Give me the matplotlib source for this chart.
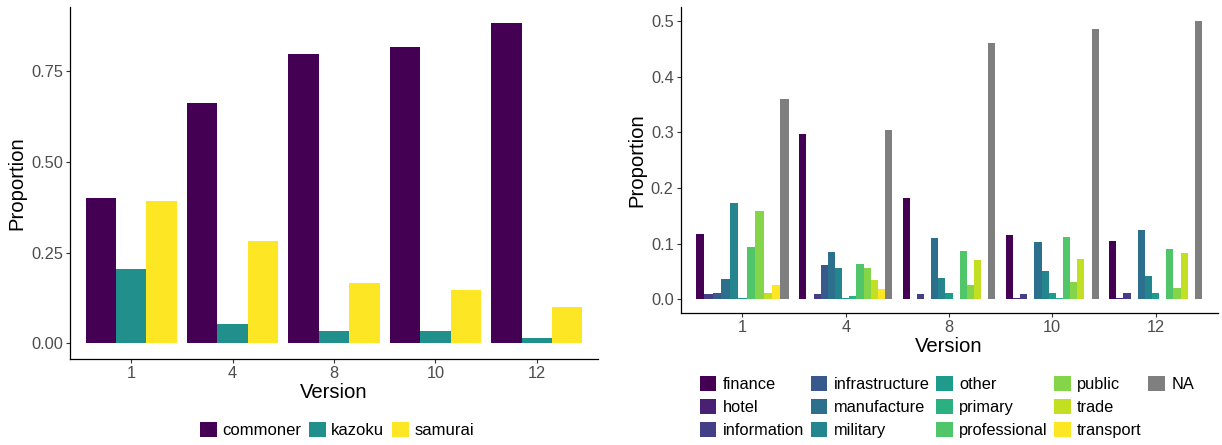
import numpy as np
import matplotlib
matplotlib.use("Agg")
import matplotlib.pyplot as plt
from matplotlib.patches import Patch

plt.rcParams['font.family'] = ['Liberation Sans', 'DejaVu Sans']

# ---------------- data ----------------
versions = ['1', '4', '8', '10', '12']

# left panel: class
class_names = ['commoner', 'kazoku', 'samurai']
commoner = [0.400, 0.662, 0.797, 0.816, 0.884]
kazoku = [0.205, 0.053, 0.035, 0.034, 0.014]
samurai = [0.392, 0.283, 0.166, 0.147, 0.100]
class_colors = ['#440154', '#21908C', '#FDE725']

# right panel: occupation (nan = category absent in that version)
nan = np.nan
occ_names = ['finance', 'hotel', 'information', 'infrastructure', 'manufacture',
             'military', 'other', 'primary', 'professional', 'public', 'trade',
             'transport', 'NA']
finance = [0.117, 0.296, 0.181, 0.115, 0.105]
hotel = [nan, 0.001, 0.001, 0.002, 0.002]
information = [0.009, 0.009, 0.010, 0.010, 0.011]
infrastructure = [0.011, 0.061, 0.0, 0.001, 0.001]
manufacture = [0.036, 0.084, 0.110, 0.102, 0.125]
military = [0.172, 0.057, 0.039, 0.050, 0.042]
other = [0.002, 0.002, 0.011, 0.011, 0.011]
primary = [nan, 0.006, 0.0, 0.002, 0.001]
professional = [0.093, 0.064, 0.086, 0.111, 0.091]
public = [0.159, 0.056, 0.025, 0.031, 0.020]
trade = [0.011, 0.035, 0.071, 0.072, 0.083]
transport = [0.026, 0.018, 0.0, 0.0, 0.0]
na_occ = [0.359, 0.304, 0.461, 0.486, 0.500]
occ_colors = ['#440154', '#482173', '#433E85', '#38598C', '#2D708E', '#25858E',
              '#1E9B8A', '#2BB07F', '#51C56A', '#85D54A', '#C2DF23', '#FDE725',
              '#7F7F7F']

# ---------------- figure ----------------
W, H = 1222, 445
fig = plt.figure(figsize=(W / 100, H / 100), dpi=100)

def px_axes(l, t, r, b):
    return fig.add_axes([l / W, 1 - b / H, (r - l) / W, (b - t) / H])

axL = px_axes(70.3, 6.7, 597.7, 359.3)
axR = px_axes(680.5, 6.9, 1217.5, 313.2)

TICK_COL = '#4D4D4D'

def style(ax):
    for s in ['top', 'right']:
        ax.spines[s].set_visible(False)
    for s in ['left', 'bottom']:
        ax.spines[s].set_color('black')
        ax.spines[s].set_linewidth(0.9)
    ax.tick_params(axis='both', length=2.7, width=0.8, color='#333333',
                   labelcolor=TICK_COL, labelsize=11.8, pad=2.2)
    ax.set_facecolor('white')

def dodge_bars(ax, series, colors):
    """ggplot-like position_dodge: group width 0.9 split among present bars."""
    data = np.array(series, dtype=float)  # shape (n_series, n_groups)
    n_series, n_groups = data.shape
    for g in range(n_groups):
        present = [i for i in range(n_series) if not np.isnan(data[i, g])]
        w = 0.9 / len(present)
        for k, i in enumerate(present):
            x = g + 1 - 0.45 + (k + 0.5) * w
            ax.bar(x, data[i, g], width=w, color=colors[i], linewidth=0)

# left
dodge_bars(axL, [commoner, kazoku, samurai], class_colors)
style(axL)
axL.set_xlim(0.4, 5.6)
ymaxL = max(commoner)
axL.set_ylim(-0.05 * ymaxL, 1.05 * ymaxL)
axL.set_xticks(range(1, 6))
axL.set_xticklabels(versions)
axL.set_yticks([0, 0.25, 0.5, 0.75])
axL.set_yticklabels(['0.00', '0.25', '0.50', '0.75'])
axL.set_xlabel('Version', fontsize=14.6, labelpad=1.5)
axL.set_ylabel('Proportion', fontsize=14.6, labelpad=3.5)

# right
dodge_bars(axR, [finance, hotel, information, infrastructure, manufacture,
                 military, other, primary, professional, public, trade,
                 transport, na_occ], occ_colors)
style(axR)
axR.set_xlim(0.4, 5.6)
ymaxR = max(na_occ)
axR.set_ylim(-0.05 * ymaxR, 1.05 * ymaxR)
axR.set_xticks(range(1, 6))
axR.set_xticklabels(versions)
axR.set_yticks([0, 0.1, 0.2, 0.3, 0.4, 0.5])
axR.set_yticklabels(['0.0', '0.1', '0.2', '0.3', '0.4', '0.5'])
axR.set_xlabel('Version', fontsize=14.6, labelpad=1.5)
axR.set_ylabel('Proportion', fontsize=14.6, labelpad=3)

# legends
hL = [Patch(facecolor=c, edgecolor='none') for c in class_colors]
fig.legend(hL, class_names, loc='center', bbox_to_anchor=(337 / W, 1 - 430 / H),
           ncol=3, frameon=False, fontsize=12, handlelength=1.0, handleheight=1.0,
           handletextpad=0.34, columnspacing=0.45, borderpad=0, borderaxespad=0)

hR = [Patch(facecolor=c, edgecolor='none') for c in occ_colors]
labR = list(occ_names)
# two invisible fillers so column 5 holds only NA (ggplot column-major layout)
hR += [Patch(facecolor='none', edgecolor='none')] * 2
labR += ['', '']
fig.legend(hR, labR, loc='center', bbox_to_anchor=(947 / W, 1 - 407 / H),
           ncol=5, frameon=False, fontsize=11.8, handlelength=1.0, handleheight=1.0,
           handletextpad=0.4, columnspacing=0.4, labelspacing=0.42,
           borderpad=0, borderaxespad=0)

fig.savefig('out.png', dpi=100, facecolor='white')
